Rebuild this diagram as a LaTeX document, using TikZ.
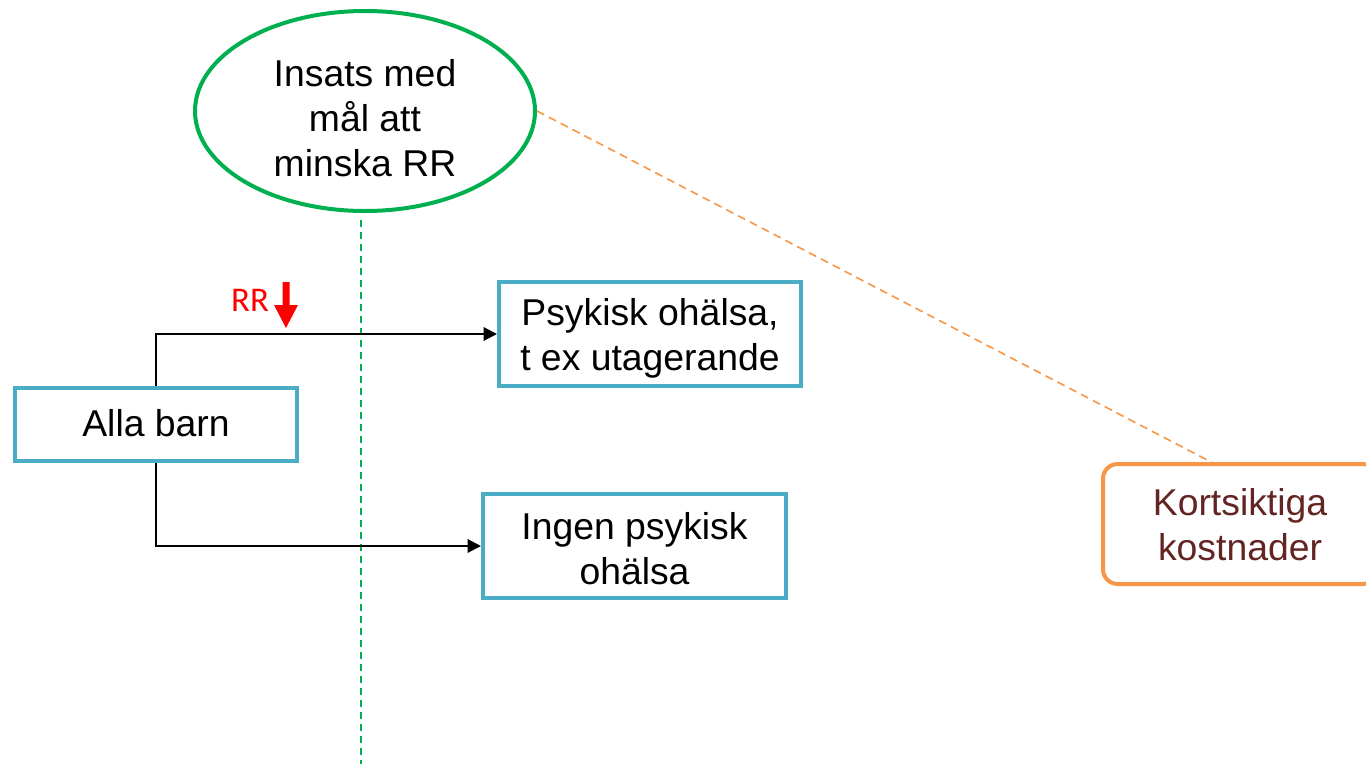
\documentclass[tikz,border=0pt]{standalone}
\usepackage{fontspec}
\setmainfont{Liberation Sans}
\newfontfamily\calib{Carlito}
\usetikzlibrary{shapes.geometric,arrows.meta}
\definecolor{cgreen}{HTML}{00B050}
\definecolor{cblue}{HTML}{4BACC6}
\definecolor{corange}{HTML}{F79646}
\definecolor{cdred}{HTML}{632523}
\definecolor{cred}{HTML}{FF0000}
\tikzset{
  txt/.style={font=\fontsize{28}{33.75}\selectfont, align=center, inner sep=0pt},
  bluebox/.style={draw=cblue, line width=3pt, fill=white, inner sep=0pt},
  conn/.style={draw=black, line width=1.5pt, -{Triangle[length=10pt,width=10pt]}},
}
\begin{document}
\begin{tikzpicture}[x=0.75pt,y=-0.75pt]
\useasboundingbox (0,0) rectangle (1366,764);
\clip (0,0) rectangle (1366,764);
% shapes
\node[ellipse, draw=cgreen, line width=3pt, minimum width=255pt, minimum height=150pt, inner sep=0pt] (ell) at (365,111) {};
\node[bluebox, minimum width=211.5pt, minimum height=54.75pt] (alla) at (156,424.5) {};
\node[bluebox, minimum width=226.5pt, minimum height=78pt] (psy) at (650,334) {};
\node[bluebox, minimum width=227.25pt, minimum height=78pt] (ingen) at (634.5,546) {};
\node[draw=corange, line width=3pt, rounded corners=11pt, minimum width=205.5pt, minimum height=90pt, inner sep=0pt] (kort) at (1240,524) {};
% texts
\node[txt] (elltxt) at (365,118) {Insats med\\mål att\\minska RR};
\node[txt] (allatxt) at (156,423) {Alla barn};
\node[txt] (psytxt) at (650,338) {Psykisk ohälsa,\\t ex utagerande};
\node[txt] (ingentxt) at (634.5,549) {Ingen psykisk\\ohälsa};
\node[txt, text=cdred] (korttxt) at (1240,525) {Kortsiktiga\\kostnader};
% coordinates
\coordinate (gtop) at (361,220);
\coordinate (gbot) at (361,764);
\coordinate (kortin) at (1213,463);
% dashed lines
\draw[cgreen, line width=1.2pt, dash pattern=on 5pt off 4pt] (gtop) -- (gbot);
\draw[corange, line width=1.2pt, dash pattern=on 6pt off 4pt] (ell.east) -- (kortin);
% connectors
\draw[conn] (alla.north) |- (psy.west);
\draw[conn] (alla.south) |- (ingen.west);
% RR label and red arrow
\node[font=\calib\fontsize{26}{30}\selectfont, text=cred, inner sep=0pt] (rr) at (250,300) {RR};
\fill[cred] (282.5,282) -- (289.5,282) -- (289.5,305) -- (298,305) -- (286,328) -- (274,305) -- (282.5,305) -- cycle;
\end{tikzpicture}
\end{document}
